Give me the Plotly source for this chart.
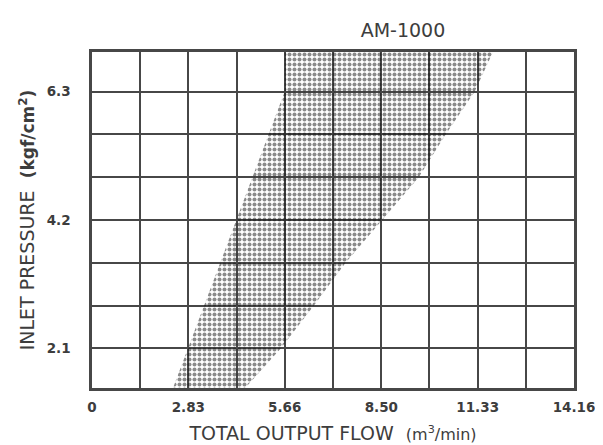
import plotly.graph_objects as go

# Operating range (pressure in kgf/cm2, flow in m3/min)
pressure = [1.45, 2.1, 2.8, 3.5, 4.2, 4.9, 5.6, 6.3, 6.95]
flow_min = [2.38, 2.82, 3.29, 3.77, 4.24, 4.71, 5.19, 5.66, 5.66]
flow_max = [4.50, 5.55, 6.52, 7.45, 8.52, 9.60, 10.39, 11.24, 11.78]

flow_ticks = [0, 2.83, 5.66, 8.50, 11.33, 14.16]
flow_tick_labels = ["0", "2.83", "5.66", "8.50", "11.33", "14.16"]
pressure_ticks = [2.1, 4.2, 6.3]

GRID = "#474747"
TEXT = "#3d3d3d"
FONT = "DejaVu Sans"

# closed polygon: left edge going up, right edge coming back down
poly_x = flow_min + flow_max[::-1]
poly_y = pressure + pressure[::-1]

fig = go.Figure(
    go.Scatter(
        x=poly_x,
        y=poly_y,
        mode="lines",
        fill="toself",
        fillcolor="rgba(0,0,0,0)",
        fillpattern=dict(shape=".", fgcolor="#151515", bgcolor="rgba(0,0,0,0)",
                         size=5, solidity=0.52),
        line=dict(width=0),
        hoverinfo="skip",
        showlegend=False,
    )
)

fig.update_layout(
    width=603,
    height=445,
    margin=dict(l=84, r=37, t=44, b=62),
    paper_bgcolor="white",
    plot_bgcolor="white",
    font=dict(family=FONT, color=TEXT),
    title=dict(
        text="AM-1000",
        font=dict(family=FONT, size=19, color=TEXT),
        x=0.655, xanchor="center",
        y=0.95, yanchor="middle",
        yref="container",
    ),
)

fig.update_xaxes(
    range=[0, 14.16],
    tickvals=flow_ticks,
    ticktext=flow_tick_labels,
    tickfont=dict(family=FONT, size=13.5, color=TEXT, weight="bold"),
    ticks="",
    ticklabelstandoff=5,
    showgrid=True, gridcolor=GRID, gridwidth=2,
    minor=dict(dtick=1.416, tick0=0, showgrid=True, gridcolor=GRID, gridwidth=2),
    zeroline=False,
    showline=True, linecolor=GRID, linewidth=2.5, mirror=True,
    title=dict(
        text="TOTAL OUTPUT FLOW  <span style='font-size:16px'>(m<sup>3</sup>/min)</span>",
        font=dict(family=FONT, size=19, color=TEXT),
        standoff=13,
    ),
)

fig.update_yaxes(
    range=[1.45, 6.95],
    tickvals=pressure_ticks,
    tickformat=".1f",
    tickfont=dict(family=FONT, size=13.5, color=TEXT, weight="bold"),
    ticks="",
    ticklabelstandoff=16,
    showgrid=True, gridcolor=GRID, gridwidth=2,
    minor=dict(dtick=0.7, tick0=0, showgrid=True, gridcolor=GRID, gridwidth=2),
    zeroline=False,
    showline=True, linecolor=GRID, linewidth=2.5, mirror=True,
    title=dict(
        text="INLET PRESSURE  <span style='font-size:17px'><b>(kgf/cm<sup>2</sup>)</b></span>",
        font=dict(family=FONT, size=19, color=TEXT),
        standoff=7,
    ),
)

fig.write_html("out.html")
